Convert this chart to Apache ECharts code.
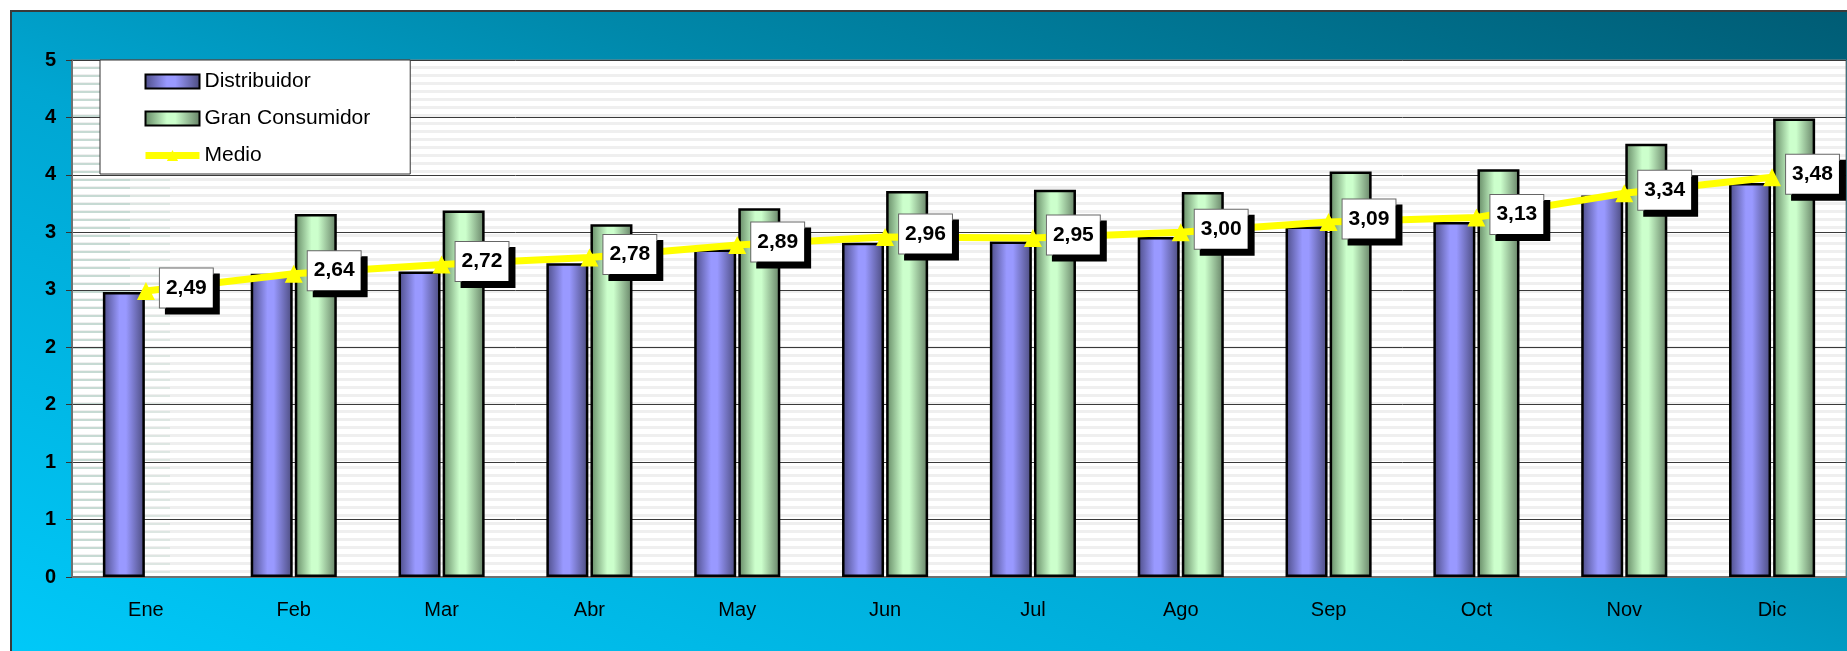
<!DOCTYPE html>
<html>
<head>
<meta charset="utf-8">
<script src="https://cdn.jsdelivr.net/npm/echarts@6/dist/echarts.min.js"></script>
<style>
html,body{margin:0;padding:0;background:#fff;overflow:hidden;}
#back{position:absolute;left:10px;top:10px;width:1900px;height:700px;
  border:2px solid #3a3a3a;box-sizing:border-box;
  background:linear-gradient(to top right,#00ccfc 0%,#00a6d2 45%,#0088aa 65%,#005a72 100%);}
#main{position:absolute;left:0;top:0;width:1847px;height:651px;}
</style>
</head>
<body>
<div id="back"></div>
<div id="main"></div>
<script>
// datos por mes
var meses = ['Ene','Feb','Mar','Abr','May','Jun','Jul','Ago','Sep','Oct','Nov','Dic'];
var distribuidor = [2.48, 2.64, 2.66, 2.73, 2.85, 2.91, 2.92, 2.96, 3.05, 3.09, 3.32, 3.43];
var granConsumidor = [null, 3.16, 3.19, 3.07, 3.21, 3.36, 3.37, 3.35, 3.53, 3.55, 3.77, 3.99];
var medio = [2.49, 2.64, 2.72, 2.78, 2.89, 2.96, 2.95, 3.00, 3.09, 3.13, 3.34, 3.48];

var fuente = '"Liberation Sans", Arial, sans-serif';

// fondo rayado del area de trazado
var cv = document.createElement('canvas');
cv.width = 1847; cv.height = 8;
var ctx = cv.getContext('2d');
ctx.fillStyle = '#ffffff';
ctx.fillRect(0, 0, 1847, 8);
ctx.fillStyle = '#efefef';
ctx.fillRect(0, 2, 1847, 3);
ctx.fillStyle = '#c6dad3';
ctx.fillRect(72, 3, 58, 2);
ctx.fillStyle = '#dde6e2';
ctx.fillRect(130, 3, 40, 2);

var myChart = echarts.init(document.getElementById('main'));

function cilindro(oscuro, claro, oscuro2) {
    return new echarts.graphic.LinearGradient(0, 0, 1, 0, [
        {offset: 0, color: oscuro},
        {offset: 0.4, color: claro},
        {offset: 0.55, color: claro},
        {offset: 1, color: oscuro2}
    ]);
}

option = {
    backgroundColor: 'transparent',
    animation: false,
    textStyle: {fontFamily: fuente},
    legend: {
        orient: 'vertical',
        left: 100,
        top: 60,
        backgroundColor: '#fff',
        borderColor: '#333',
        borderWidth: 1,
        padding: [11, 40, 8, 42],
        itemWidth: 54,
        itemHeight: 14,
        itemGap: 16,
        lineStyle: {width: 'inherit'},
        textStyle: {fontSize: 21, color: '#000', fontFamily: fuente},
        data: [
            {name: 'Distribuidor', icon: 'rect'},
            {name: 'Gran Consumidor', icon: 'rect'},
            {name: 'Medio'}
        ]
    },
    grid: {
        left: 72, top: 60, right: 1, bottom: 74,
        show: true,
        borderColor: '#808080',
        borderWidth: 1,
        backgroundColor: {image: cv, repeat: 'repeat'}
    },
    xAxis: {
        type: 'category',
        data: meses,
        axisLine: {lineStyle: {color: '#707070', width: 2}},
        axisTick: {length: 6, lineStyle: {color: '#333'}},
        axisLabel: {fontSize: 20, color: '#000', margin: 23, fontFamily: fuente}
    },
    yAxis: {
        type: 'value',
        min: 0, max: 4.5, interval: 0.5,
        axisLine: {show: true, lineStyle: {color: '#707070', width: 2}},
        axisTick: {show: true, length: 6, lineStyle: {color: '#333'}},
        axisLabel: {
            fontSize: 20, fontWeight: 'bold', color: '#000', margin: 16, fontFamily: fuente,
            formatter: function (v) { return String(Math.round(v)); }
        },
        splitLine: {lineStyle: {color: '#3a3a3a', width: 1}}
    },
    series: [
        {
            name: 'Distribuidor',
            type: 'bar',
            data: distribuidor,
            barWidth: 42,
            barGap: '5%',
            itemStyle: {
                color: cilindro('#4c4c86', '#9999ff', '#4a4a7c'),
                borderColor: '#000', borderWidth: 2.5
            }
        },
        {
            name: 'Gran Consumidor',
            type: 'bar',
            data: granConsumidor,
            barWidth: 42,
            itemStyle: {
                color: cilindro('#628662', '#ccffcc', '#647f64'),
                borderColor: '#000', borderWidth: 2.5
            }
        },
        {
            name: 'Medio',
            type: 'line',
            data: medio,
            symbol: 'triangle',
            symbolSize: 18,
            itemStyle: {color: '#ffff00'},
            lineStyle: {color: '#ffff00', width: 7},
            z: 5,
            label: {
                show: true,
                position: 'right',
                distance: 5,
                offset: [0, -3],
                formatter: function (p) { return p.value.toFixed(2).replace('.', ','); },
                fontFamily: fuente,
                fontSize: 21,
                fontWeight: 'bold',
                color: '#000',
                backgroundColor: '#fff',
                borderColor: '#666',
                borderWidth: 1,
                padding: [9, 6, 9, 6],
                shadowColor: '#000',
                shadowOffsetX: 6,
                shadowOffsetY: 6,
                shadowBlur: 0
            }
        }
    ]
};

myChart.setOption(option);
</script>
</body>
</html>
